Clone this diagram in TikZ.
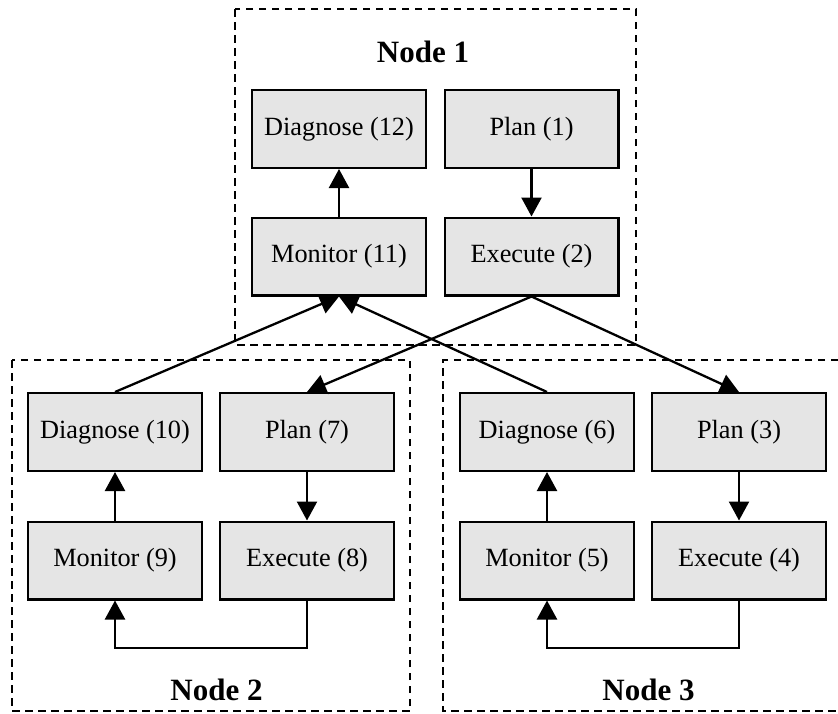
\documentclass[tikz,border=0pt]{standalone}
\usepackage{fontspec}
\setmainfont{Liberation Serif}
\usetikzlibrary{arrows.meta}
\definecolor{boxfill}{RGB}{229,229,229}
\begin{document}
\begin{tikzpicture}[x=1pt,y=-1pt,
  box/.style={draw=black, fill=boxfill, line width=2.3pt, minimum width=173.7pt, minimum height=77.7pt, inner sep=0pt, font=\fontsize{26.3}{30}\selectfont},
  cluster/.style={draw=black, line width=2.4pt, dash pattern=on 7.5pt off 5.5pt},
  title/.style={font=\fontsize{31}{36}\selectfont\bfseries, anchor=base, inner sep=0pt},
  edge/.style={line width=2.3pt, -{Triangle[length=19pt,width=20pt]}}
]
\useasboundingbox (0,0) rectangle (838,713);
% clusters
\draw[cluster] (235,9) rectangle (636,345);
\draw[cluster] (12,360) rectangle (410,711);
\draw[cluster] (838,360) -- (443,360) -- (443,711) -- (838,711);
\node[title] (t1) at (423,62) {Node 1};
\node[title] (t2) at (216.5,700) {Node 2};
\node[title] (t3) at (648.5,700) {Node 3};
% node 1
\node[box] (d12) at (339,129) {Diagnose (12)};
\node[box] (p1) at (531.5,129) {Plan (1)};
\node[box] (m11) at (339,256.5) {Monitor (11)};
\node[box] (e2) at (531.5,256.5) {Execute (2)};
% node 2
\node[box] (d10) at (115,432) {Diagnose (10)};
\node[box] (p7) at (307,432) {Plan (7)};
\node[box] (m9) at (115,560.5) {Monitor (9)};
\node[box] (e8) at (307,560.5) {Execute (8)};
% node 3
\node[box] (d6) at (547,432) {Diagnose (6)};
\node[box] (p3) at (739,432) {Plan (3)};
\node[box] (m5) at (547,560.5) {Monitor (5)};
\node[box] (e4) at (739,560.5) {Execute (4)};
% edges node 1
\draw[edge] (p1.south) -- (e2.north);
\draw[edge] (m11.north) -- (d12.south);
% cross edges
\draw[edge] (e2.south) -- (p7.north);
\draw[edge] (e2.south) -- (p3.north);
\draw[edge] (d10.north) -- (m11.south);
\draw[edge] (d6.north) -- (m11.south);
% node 2
\draw[edge] (p7.south) -- (e8.north);
\draw[edge] (m9.north) -- (d10.south);
\draw[edge] (e8.south) -- ++(0,47.5) -| (m9.south);
% node 3
\draw[edge] (p3.south) -- (e4.north);
\draw[edge] (m5.north) -- (d6.south);
\draw[edge] (e4.south) -- ++(0,47.5) -| (m5.south);
\end{tikzpicture}
\end{document}
